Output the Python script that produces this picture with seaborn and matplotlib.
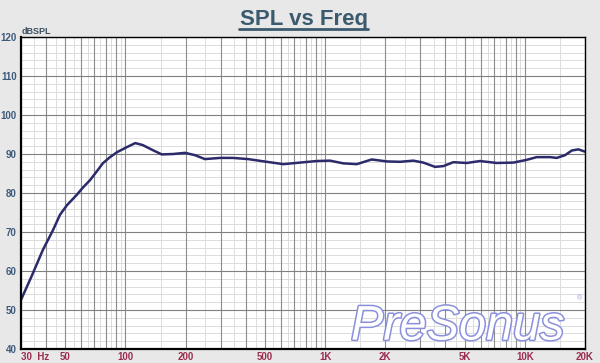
import numpy as np
import pandas as pd
import matplotlib.pyplot as plt
import matplotlib.ticker as mticker
import matplotlib.patheffects as pe
from matplotlib.lines import Line2D
import seaborn as sns

# Frequency response values
freq_hz = [30, 34, 38.6, 43.4, 47, 51, 57, 61, 66.5, 72, 77, 83.7, 91, 102, 112, 122,
           137, 152, 173, 199, 223, 250, 298, 345, 411, 510, 617, 749, 907, 1057,
           1233, 1440, 1711, 2034, 2372, 2764, 3101, 3549, 3907, 4383, 5117, 5962,
           7232, 8757, 10210, 11460, 13366, 14430, 15890, 17180, 18530, 20000]
spl_db = [52.6, 58.8, 65.4, 70.5, 74.4, 76.9, 79.5, 81.3, 83.3, 85.6, 87.6, 89.2,
          90.5, 91.8, 92.8, 92.3, 91.0, 89.9, 90.0, 90.3, 89.7, 88.7, 89.0, 89.0,
          88.7, 88.0, 87.4, 87.8, 88.2, 88.3, 87.6, 87.4, 88.6, 88.1, 88.0, 88.3,
          87.8, 86.7, 86.9, 87.9, 87.7, 88.2, 87.7, 87.8, 88.5, 89.2, 89.2, 89.0,
          89.7, 90.9, 91.2, 90.6]

x_tick_values = [30, 50, 100, 200, 500, 1000, 2000, 5000, 10000, 20000]
x_tick_labels = ['30  Hz', '50', '100', '200', '500', '1K', '2K', '5K', '10K', '20K']
y_tick_values = [40, 50, 60, 70, 80, 90, 100, 110, 120]

sns.set_style('white')
plt.rcParams['font.family'] = ['Liberation Sans', 'DejaVu Sans']

df = pd.DataFrame({'Frequency': freq_hz, 'SPL': spl_db})

fig = plt.figure(figsize=(6, 3.63), dpi=100, facecolor='#e8e8e8')
ax = fig.add_axes([0.035, 0.0386, 0.94, 0.8594])
ax.set_facecolor('white')
ax.set_axisbelow(True)

sns.lineplot(data=df, x='Frequency', y='SPL', ax=ax, color='#2b2a6b',
             linewidth=1.8, zorder=5)
ax.set_xscale('log')
ax.set_xlim(30, 20000)
ax.set_ylim(40, 120)

# grid: integer multiples dark, half steps light
whole = [k * 10 ** n for n in range(1, 5) for k in range(1, 10)]
whole = [f for f in whole if 30 <= f <= 20000]
half = [(k + 0.5) * 10 ** n for n in range(1, 5) for k in range(1, 10)]
half = [f for f in half if 30 < f < 20000]
for f in half:
    ax.axvline(f, color='#dcdcdc', linewidth=0.7, zorder=0)
for f in whole:
    ax.axvline(f, color='#8c8c8c', linewidth=0.8, zorder=1)
for v in range(42, 120, 2):
    if v % 10:
        ax.axhline(v, color='#dcdcdc', linewidth=0.7, zorder=0)
for v in y_tick_values:
    ax.axhline(v, color='#808080', linewidth=0.8, zorder=1)

ax.xaxis.set_major_locator(mticker.FixedLocator(x_tick_values))
ax.xaxis.set_minor_locator(mticker.NullLocator())
ax.set_xticklabels(x_tick_labels)
ax.set_yticks(y_tick_values)
ax.tick_params(axis='both', length=0, labelsize=7)
ax.tick_params(axis='x', pad=2, labelcolor='#9b2d4f')
ax.tick_params(axis='y', pad=3, labelcolor='#3d5a7a')
for lab in ax.get_xticklabels() + ax.get_yticklabels():
    lab.set_fontweight('bold')
ax.get_xticklabels()[0].set_ha('left')
ax.set_xlabel('')
ax.set_ylabel('')

for side in ['left', 'bottom']:
    ax.spines[side].set_linewidth(1.6)
for side in ['top', 'right']:
    ax.spines[side].set_linewidth(1.0)
for s in ax.spines.values():
    s.set_color('black')
    s.set_zorder(6)

# watermark
ax.text(0.585, 0.03, 'PreSonus', transform=ax.transAxes, fontsize=35,
        style='italic', ha='left', va='baseline', color='white',
        path_effects=[pe.withStroke(linewidth=2.2, foreground='#8a90dc')], zorder=3)
ax.text(0.99, 0.16, '®', transform=ax.transAxes, fontsize=5,
        color='#9aa0dc', ha='center', va='center', zorder=3)

fig.text(22 / 600, 1 - 31 / 363, 'dBSPL', fontsize=6.5, fontweight='bold',
         color='#3d5060', ha='left', va='center')

fig.text(303.5 / 600, 1 - 25 / 363, 'SPL vs Freq', fontsize=16, fontweight='bold',
         color='#3b5a6e', ha='center', va='baseline')
fig.add_artist(Line2D([239 / 600, 368 / 600], [1 - 29 / 363, 1 - 29 / 363],
                      color='#3b5a6e', linewidth=2))

fig.savefig('out.png', dpi=100, facecolor=fig.get_facecolor())
